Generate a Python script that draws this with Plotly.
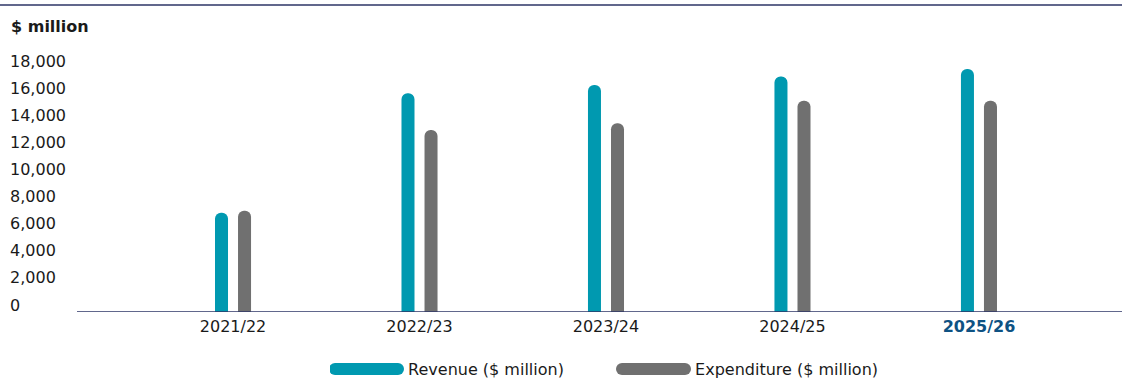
import plotly.graph_objects as go

# Financial years and the two series ($ million)
years = ["2021/22", "2022/23", "2023/24", "2024/25", "2025/26"]
revenue = [7330, 16140, 16750, 17370, 17930]
expenditure = [7470, 13430, 13930, 15590, 15590]

y_ticks = list(range(0, 18001, 2000))
x_labels = years[:-1] + ["<b><span style='color:#0e5283'>2025/26</span></b>"]

TEAL = "#0099b0"
GREY = "#707070"
NAVY = "#2c3566"
TEXT = "#1a1a1a"
FONT = "DejaVu Sans"
FS = 16

fig = go.Figure()
fig.add_trace(go.Bar(x=years, y=revenue, name="Revenue ($ million)",
                     marker=dict(color=TEAL, cornerradius=7),
                     legendgroup="rev", showlegend=False))
fig.add_trace(go.Bar(x=years, y=expenditure, name="Expenditure ($ million)",
                     marker=dict(color=GREY, cornerradius=7),
                     legendgroup="exp", showlegend=False))

# legend entries drawn as thick strokes
fig.add_trace(go.Scatter(x=[None], y=[None], mode="lines",
                         name="\u00a0Revenue ($ million)",
                         line=dict(color=TEAL, width=12), legendgroup="rev"))
fig.add_trace(go.Scatter(x=[None], y=[None], mode="lines",
                         name="\u00a0Expenditure ($ million)",
                         line=dict(color=GREY, width=12), legendgroup="exp"))

W, H = 1122, 379
L, R, T, B = 7, 0, 49, 67
plot_w = W - L - R
plot_h = H - T - B

label_font = dict(family=FONT, size=FS, color=TEXT)

fig.update_layout(
    template="none",
    width=W, height=H,
    margin=dict(l=L, r=R, t=T, b=B, pad=0, autoexpand=False),
    paper_bgcolor="white", plot_bgcolor="white",
    font=label_font,
    barmode="group", bargap=0.753, bargroupgap=0.435,
    showlegend=True,
    legend=dict(orientation="h", x=(330 - L) / plot_w, xanchor="left",
                yref="container", y=(H - 369) / H, yanchor="middle",
                itemwidth=63, entrywidth=209,
                font=label_font,
                traceorder="normal", bgcolor="rgba(0,0,0,0)"),
    xaxis=dict(type="category", range=[-1.212, 4.767], showgrid=False,
               showline=False, zeroline=False, ticks="", automargin=False,
               tickmode="array", tickvals=years, ticktext=x_labels,
               ticklabelstandoff=3, tickfont=label_font),
    yaxis=dict(range=[0, 19400], showgrid=False, zeroline=False, showline=False,
               tickmode="array", tickvals=y_ticks, tickformat=",d",
               ticklabelposition="inside", ticklabelshift=-7,
               ticklabeloverflow="allow", ticks="", automargin=False,
               tickfont=label_font),
    shapes=[
        # baseline under the bars
        dict(type="line", xref="paper", yref="y", x0=(77 - L) / plot_w, x1=1,
             y0=0, y1=0, line=dict(color=NAVY, width=1.5), layer="above"),
        # rule across the top
        dict(type="line", xref="paper", yref="paper", x0=-L / plot_w, x1=1,
             y0=(312 - 5) / plot_h, y1=(312 - 5) / plot_h,
             line=dict(color=NAVY, width=1.5)),
    ],
    annotations=[
        dict(text="<b>$ million</b>", xref="paper", yref="paper",
             x=(9 - L) / plot_w, xanchor="left", y=(312 - 26) / plot_h,
             yanchor="middle", showarrow=False,
             font=dict(family=FONT, size=FS, color=TEXT)),
    ],
)

legend_strokes = """
document.querySelectorAll('.legendlines path').forEach(function(p){
  p.style.strokeLinecap = 'round';
  p.style.strokeWidth = '12px';
});
"""

fig.write_html("out.html", post_script=legend_strokes)
